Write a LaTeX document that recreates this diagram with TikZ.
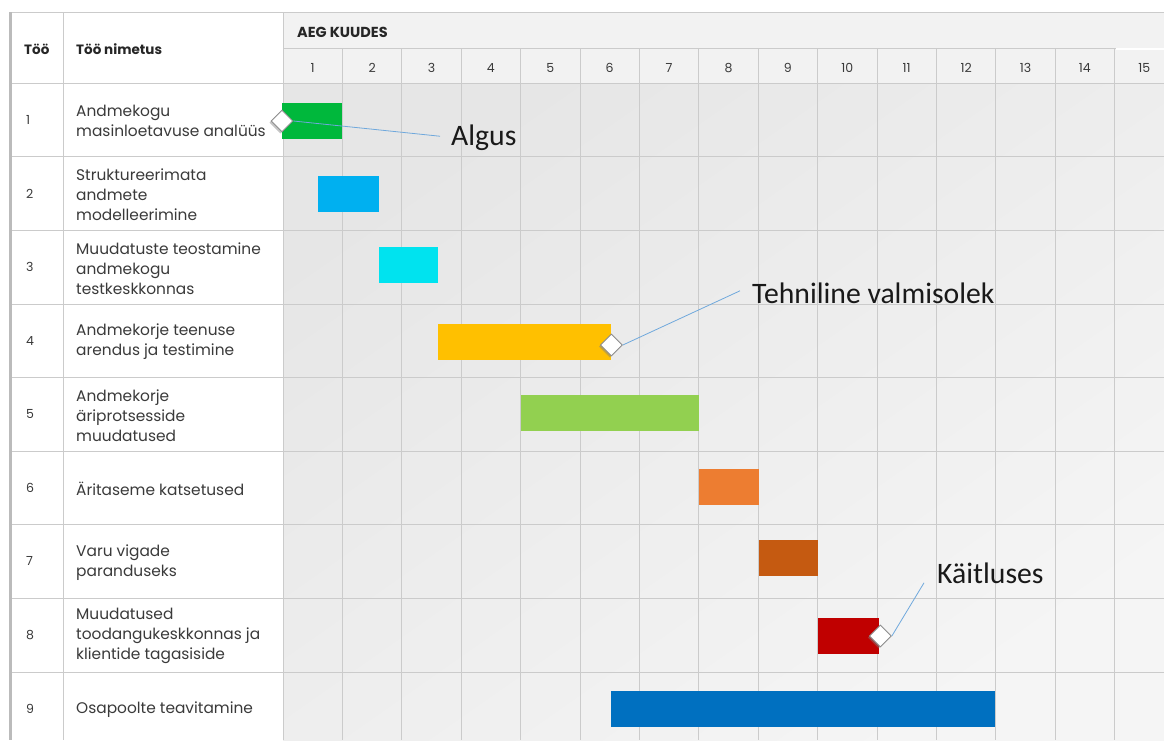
\documentclass[tikz,border=0pt]{standalone}
\usepackage{fontspec}
\setmainfont{Poppins}
\newfontfamily\calloutfont{Carlito}
\usetikzlibrary{shapes.geometric,shadows}

\definecolor{rule}{HTML}{CBCBCB}
\definecolor{headfill}{HTML}{F2F2F2}
\definecolor{bodydark}{HTML}{E6E6E6}
\definecolor{bodylight}{HTML}{F5F5F5}
\definecolor{txt}{HTML}{3A3A3A}
\definecolor{leader}{HTML}{6FA8DC}
\definecolor{barA}{HTML}{00B83C}
\definecolor{barB}{HTML}{00B0F0}
\definecolor{barC}{HTML}{00E3EF}
\definecolor{barD}{HTML}{FFC000}
\definecolor{barE}{HTML}{92D050}
\definecolor{barF}{HTML}{ED7D31}
\definecolor{barG}{HTML}{C55A11}
\definecolor{barH}{HTML}{C00000}
\definecolor{barI}{HTML}{0070C0}

\begin{document}
\begin{tikzpicture}[x=1pt,y=-1pt,
  gridrule/.style={draw=rule, line width=1.4pt},
  cell/.style={inner sep=0pt, text=txt, font=\fontsize{15.4}{20}\selectfont, align=left, anchor=west},
  headtext/.style={inner sep=0pt, text=black!85, font=\bfseries\fontsize{13.5}{14}\selectfont, anchor=west},
  numtext/.style={inner sep=0pt, text=txt, font=\fontsize{12.5}{14}\selectfont},
  taskbar/.style={rectangle, inner sep=0pt, minimum height=36pt, anchor=west},
  milestone/.style={diamond, aspect=1, minimum size=22pt, inner sep=0pt, fill=white,
    draw=black!45, line width=0.9pt,
    drop shadow={shadow xshift=-1.6pt, shadow yshift=-1.6pt, opacity=0.45}},
  leaderline/.style={draw=leader, line width=0.8pt},
  callout/.style={inner sep=0pt, anchor=base west,
    font=\calloutfont\fontsize{29.7}{30}\selectfont, text=black!90}
]
\useasboundingbox (0,0) rectangle (1164,740);
\fill[white] (0,0) rectangle (1164,740);

% timeline area
\shade[top color=bodydark, bottom color=bodylight, shading angle=35]
  (283,83) rectangle (1164,740);
\fill[headfill] (283,12) rectangle (1164,83);

% grid: columns
\draw[draw=rule!92!black, line width=3pt] (10.5,12) -- (10.5,740);
\draw[gridrule] (63.5,12) -- (63.5,740);
\draw[gridrule] (283.5,12) -- (283.5,740);
\foreach \x in {342.5,401.5,461.5,520.5,580.5,639.5,698.5,758.5,817.5,877.5,936.5,995.5,1055.5,1114.5}
  \draw[gridrule] (\x,48) -- (\x,740);
% grid: rows
\draw[gridrule] (12,12.5) -- (1164,12.5);
\draw[gridrule] (283,48.5) -- (1164,48.5);
\draw[white, line width=2pt] (1115.5,48.5) -- (1164,48.5);
\foreach \y in {83.5,156.5,230.5,304.5,377.5,451.5,524.5,598.5,672.5}
  \draw[gridrule] (12,\y) -- (1164,\y);

% header
\node[headtext] (hnum) at (24,49) {Töö};
\node[headtext] (hname) at (76,49) {Töö nimetus};
\node[headtext, font=\bfseries\fontsize{14.5}{15}\selectfont] (htime) at (297,32) {AEG KUUDES};
\foreach \i in {1,...,15}
  \node[numtext] (mon\i) at (283+59.4*\i-29.7,68) {\i};

% task rows
\foreach \k/\t in {1/{Andmekogu\\masinloetavuse analüüs},
                   2/{Struktureerimata\\andmete\\modelleerimine},
                   3/{Muudatuste teostamine\\andmekogu\\testkeskkonnas},
                   4/{Andmekorje teenuse\\arendus ja testimine},
                   5/{Andmekorje\\äriprotsesside\\muudatused},
                   6/{Äritaseme katsetused},
                   7/{Varu vigade\\paranduseks},
                   8/{Muudatused\\toodangukeskkonnas ja\\klientide tagasiside},
                   9/{Osapoolte teavitamine}} {
  \node[numtext, anchor=west] (num\k) at (26,83+73.6*\k-36.8) {\k};
  \node[cell] (task\k) at (76,83+73.6*\k-35.5) {\t};
}

% task bars
\node[taskbar, fill=barA, minimum width=60pt]  (bar1) at (282,121) {};
\node[taskbar, fill=barB, minimum width=61pt]  (bar2) at (318,193.5) {};
\node[taskbar, fill=barC, minimum width=59pt]  (bar3) at (379,265) {};
\node[taskbar, fill=barD, minimum width=173pt] (bar4) at (438,342) {};
\node[taskbar, fill=barE, minimum width=178pt] (bar5) at (521,413) {};
\node[taskbar, fill=barF, minimum width=60pt]  (bar6) at (699,487) {};
\node[taskbar, fill=barG, minimum width=59pt]  (bar7) at (759,558) {};
\node[taskbar, fill=barH, minimum width=61pt]  (bar8) at (818,636) {};
\node[taskbar, fill=barI, minimum width=384pt] (bar9) at (611,709) {};

% milestones
\node[milestone] (ms1) at (bar1.west) {};
\node[milestone] (ms4) at ([yshift=-3pt]bar4.east) {};
\node[milestone] (ms8) at ([xshift=1pt]bar8.east) {};

% callouts
\node[callout] (algus) at (451,145) {Algus};
\node[callout] (tehn) at (752,303) {Tehniline valmisolek};
\node[callout] (kait) at (937,583) {Käitluses};

\draw[leaderline] (ms1.east) -- ([xshift=-11pt,yshift=1pt]algus.west);
\draw[leaderline] (ms4.east) -- ([xshift=-12pt,yshift=2pt]tehn.west);
\draw[leaderline] (ms8.east) -- ([xshift=-13pt,yshift=-10pt]kait.west);
\end{tikzpicture}
\end{document}
